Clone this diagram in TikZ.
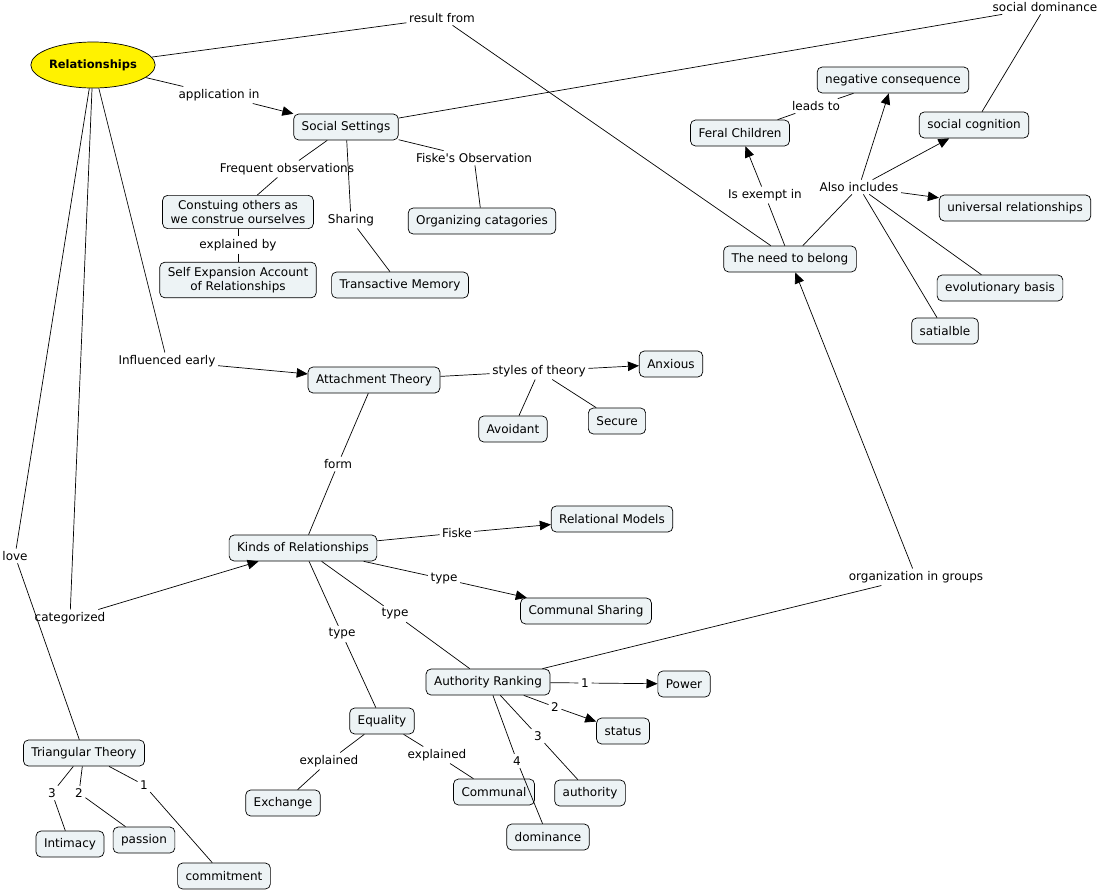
\documentclass[tikz,border=0pt]{standalone}
\usepackage{fontspec}
\setmainfont{DejaVu Sans}[Ligatures=TeXOff]
\usetikzlibrary{arrows.meta,shapes.geometric}
\definecolor{cmapfill}{RGB}{237,243,245}

\begin{document}
\begin{tikzpicture}[x=1pt,y=-1pt,
        concept/.style={draw,line width=0.7pt,rounded corners=5pt,fill=cmapfill,minimum height=26pt,inner xsep=8pt,inner ysep=5pt,align=center,font=\fontsize{12}{14}\selectfont},
        phrase/.style={inner sep=2.5pt,font=\fontsize{12}{14}\selectfont},
        conn/.style={line width=0.7pt},
        connarrow/.style={conn,-{Triangle[length=11pt,width=9.5pt]}}]
        \useasboundingbox (0,0) rectangle (1100,889);

        % Root concept
        \node[ellipse,draw,line width=0.7pt,fill=yellow,minimum width=109pt,minimum height=46pt,inner sep=0pt,font=\fontsize{11.5}{13.5}\selectfont\bfseries] (rel) at (93,65) {Relationships};

        % Social settings branch
        \node[concept] (soc) at (346,127) {Social Settings};
        \node[concept] (constr) at (238,212) {Constuing others as\\we construe ourselves};
        \node[concept] (selfexp) at (238,280) {Self Expansion Account\\of Relationships};
        \node[concept] (trans) at (400,285) {Transactive Memory};
        \node[concept] (org) at (482,221) {Organizing catagories};

        % Need to belong branch
        \node[concept] (negc) at (893,80) {negative consequence};
        \node[concept] (feral) at (740,133) {Feral Children};
        \node[concept] (socog) at (974,125) {social cognition};
        \node[concept] (univ) at (1015,208) {universal relationships};
        \node[concept] (need) at (790,259) {The need to belong};
        \node[concept] (evol) at (1000,288) {evolutionary basis};
        \node[concept] (sat) at (945,331) {satialble};

        % Attachment theory
        \node[concept] (att) at (374,380) {Attachment Theory};
        \node[concept] (anx) at (671,364) {Anxious};
        \node[concept] (avoid) at (513,429) {Avoidant};
        \node[concept] (sec) at (617,421) {Secure};

        % Kinds of relationships
        \node[concept] (relm) at (612,519) {Relational Models};
        \node[concept] (kinds) at (303,548) {Kinds of Relationships};
        \node[concept] (comsh) at (586,611) {Communal Sharing};
        \node[concept] (auth) at (488,682) {Authority Ranking};
        \node[concept] (power) at (684,684) {Power};
        \node[concept] (status) at (623,731) {status};
        \node[concept] (equal) at (382,721) {Equality};
        \node[concept] (exch) at (283,803) {Exchange};
        \node[concept] (commun) at (494,792) {Communal};
        \node[concept] (author) at (590,793) {authority};
        \node[concept] (domin) at (548,837) {dominance};

        % Triangular theory
        \node[concept] (tri) at (84,753) {Triangular Theory};
        \node[concept] (intim) at (70,844) {Intimacy};
        \node[concept] (pass) at (144,840) {passion};
        \node[concept] (commit) at (224,876) {commitment};

        % Linking phrases
        \node[phrase] (lresult) at (442,18) {result from};
        \node[phrase] (lappl) at (219,95) {application in};
        \node[phrase] (lsocdom) at (1045,7) {social dominance};
        \node[phrase] (lfreq) at (287,169) {Frequent observations};
        \node[phrase] (lexpl) at (238,245) {explained by};
        \node[phrase] (lshar) at (351,220) {Sharing};
        \node[phrase] (lfiske) at (474,158) {Fiske's Observation};
        \node[phrase] (lleads) at (816,106) {leads to};
        \node[phrase] (lexempt) at (765,195) {Is exempt in};
        \node[phrase] (lalso) at (859,187) {Also includes};
        \node[phrase] (linfl) at (167,361) {Influenced early};
        \node[phrase] (lstyles) at (539,371) {styles of theory};
        \node[phrase] (lform) at (338,464) {form};
        \node[phrase] (lfiskeb) at (457,533) {Fiske};
        \node[phrase] (llove) at (15,556) {love};
        \node[phrase] (lcat) at (70,618) {categorized};
        \node[phrase] (ltypea) at (444,579) {type};
        \node[phrase] (ltypeb) at (395,614) {type};
        \node[phrase] (ltypec) at (342,634) {type};
        \node[phrase] (lorg) at (916,577) {organization in groups};
        \node[phrase] (lone) at (585,683) {1};
        \node[phrase] (ltwo) at (555,707) {2};
        \node[phrase] (lthree) at (538,736) {3};
        \node[phrase] (lfour) at (517,761) {4};
        \node[phrase] (lexpla) at (329,761) {explained};
        \node[phrase] (lexplb) at (437,755) {explained};
        \node[phrase] (ltthree) at (52,793) {3};
        \node[phrase] (lttwo) at (79,793) {2};
        \node[phrase] (ltone) at (144,785) {1};

        % Connections from Relationships
        \draw[conn] (rel) -- (lresult);
        \draw[conn] (lresult) -- (need);
        \draw[conn] (rel) -- (lappl);
        \draw[connarrow] (lappl) -- (soc);
        \draw[conn] (rel) -- (linfl);
        \draw[connarrow] (linfl) -- (att);
        \draw[conn] (rel) -- (lcat);
        \draw[connarrow] (lcat) -- (kinds);
        \draw[conn] (rel) -- (llove);
        \draw[conn] (llove) -- (tri);

        % Social settings
        \draw[conn] (soc) -- (lsocdom);
        \draw[conn] (lsocdom) -- (socog);
        \draw[conn] (soc) -- (lfreq);
        \draw[conn] (lfreq) -- (constr);
        \draw[conn] (constr) -- (lexpl);
        \draw[conn] (lexpl) -- (selfexp);
        \draw[conn] (soc) -- (lshar);
        \draw[conn] (lshar) -- (trans);
        \draw[conn] (soc) -- (lfiske);
        \draw[conn] (lfiske) -- (org);

        % The need to belong
        \draw[conn] (need) -- (lexempt);
        \draw[connarrow] (lexempt) -- (feral);
        \draw[conn] (feral) -- (lleads);
        \draw[conn] (lleads) -- (negc);
        \draw[conn] (need) -- (lalso);
        \draw[connarrow] (lalso) -- (negc);
        \draw[connarrow] (lalso) -- (socog);
        \draw[connarrow] (lalso) -- (univ);
        \draw[conn] (lalso) -- (evol);
        \draw[conn] (lalso) -- (sat);

        % Attachment theory
        \draw[conn] (att) -- (lstyles);
        \draw[connarrow] (lstyles) -- (anx);
        \draw[conn] (lstyles) -- (avoid);
        \draw[conn] (lstyles) -- (sec);
        \draw[conn] (att) -- (lform);
        \draw[conn] (lform) -- (kinds);

        % Kinds of relationships
        \draw[conn] (kinds) -- (lfiskeb);
        \draw[connarrow] (lfiskeb) -- (relm);
        \draw[conn] (kinds) -- (ltypea);
        \draw[connarrow] (ltypea) -- (comsh);
        \draw[conn] (kinds) -- (ltypeb);
        \draw[conn] (ltypeb) -- (auth);
        \draw[conn] (kinds) -- (ltypec);
        \draw[conn] (ltypec) -- (equal);
        \draw[conn] (auth) -- (lorg);
        \draw[connarrow] (lorg) -- (need);
        \draw[conn] (auth) -- (lone);
        \draw[connarrow] (lone) -- (power);
        \draw[conn] (auth) -- (ltwo);
        \draw[connarrow] (ltwo) -- (status);
        \draw[conn] (auth) -- (lthree);
        \draw[conn] (lthree) -- (author);
        \draw[conn] (auth) -- (lfour);
        \draw[conn] (lfour) -- (domin);
        \draw[conn] (equal) -- (lexpla);
        \draw[conn] (lexpla) -- (exch);
        \draw[conn] (equal) -- (lexplb);
        \draw[conn] (lexplb) -- (commun);

        % Triangular theory
        \draw[conn] (tri) -- (ltthree);
        \draw[conn] (ltthree) -- (intim);
        \draw[conn] (tri) -- (lttwo);
        \draw[conn] (lttwo) -- (pass);
        \draw[conn] (tri) -- (ltone);
        \draw[conn] (ltone) -- (commit);

    \end{tikzpicture}
\end{document}
